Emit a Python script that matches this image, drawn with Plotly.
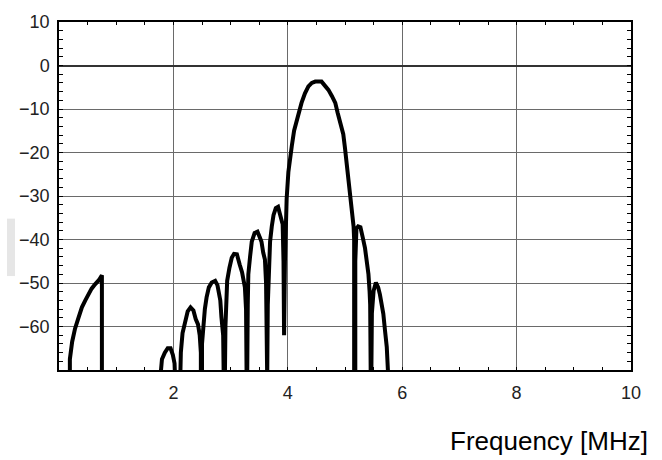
import plotly.graph_objects as go

# Spectrum trace (MHz, dB); None separates pieces that fall below the axis floor
freq = [
    0.19, 0.19, 0.23, 0.28, 0.34, 0.40, 0.46, 0.51, 0.57, 0.63, 0.70, 0.75, 0.75, None,
    1.77, 1.80, 1.85, 1.90, 1.95, 1.99, 2.02, 2.03, 2.03, None,
    2.12, 2.13, 2.16, 2.20, 2.25, 2.30, 2.35, 2.39, 2.43, 2.46, 2.48, 2.48,
    2.50, 2.50, 2.52, 2.55, 2.58, 2.62, 2.67, 2.73, 2.77, 2.80, 2.82, 2.84, 2.87, 2.88,
    2.90, 2.91, 2.92, 2.94, 2.98, 3.02, 3.06, 3.11, 3.16, 3.20, 3.25, 3.27, 3.28,
    3.29, 3.30, 3.31, 3.34, 3.37, 3.42, 3.47, 3.51, 3.54, 3.57, 3.60, 3.62, 3.63,
    3.64, 3.65, 3.67, 3.69, 3.72, 3.75, 3.79, 3.83, 3.86, 3.88, 3.91, 3.925, 3.935,
    3.95, 3.97, 3.98,
    4.01, 4.04, 4.07, 4.11, 4.16, 4.20, 4.24, 4.30, 4.36, 4.42, 4.48, 4.59, 4.65,
    4.71, 4.77, 4.83, 4.87, 4.91, 4.97, 5.00, 5.03, 5.06, 5.09, 5.12, 5.15, 5.16, 5.16,
    5.18, 5.18, 5.20, 5.23, 5.27, 5.31, 5.35, 5.38, 5.41, 5.43, 5.44, 5.45,
    5.46, 5.47, 5.50, 5.54, 5.58, 5.61, 5.64, 5.67, 5.70, 5.73, 5.75, 5.76,
]
level = [
    -72, -67.5, -63.5, -60.5, -58, -55.6, -54, -52.6, -51.3, -50.3, -49.3, -48.2, -72, None,
    -72, -67.5, -66, -65, -65, -66.5, -68.5, -70, -72, None,
    -72, -66, -61.5, -59, -56.5, -55.6, -56.3, -58.3, -59.5, -62, -66, -72,
    -72, -64, -59.4, -56, -53.3, -51, -49.9, -49.5, -50.5, -52.2, -54, -57.9, -62, -72,
    -72, -60, -54, -49.5, -46.5, -44.2, -43.3, -43.4, -45.8, -47.5, -51, -56, -72,
    -72, -55, -48, -44, -40.5, -38.5, -38.2, -39.5, -40.5, -43, -44.6, -50, -72,
    -72, -55, -45, -40.5, -37, -34.4, -32.8, -32.5, -34, -35.2, -36.5, -45, -62,
    -45, -33, -30.6,
    -24.5, -21, -18.5, -15, -12.4, -10.3, -8.6, -6.4, -4.8, -4, -3.7, -3.7, -4.5,
    -5.6, -7, -8.6, -10.8, -13.2, -15.8, -19, -22.3, -26.8, -29.8, -32.9, -37, -40, -72,
    -72, -45, -37.5, -37, -37.2, -39.5, -42, -45, -48, -52, -55, -72,
    -72, -57, -51.8, -49.9, -51, -52.6, -55, -57.1, -61, -64.7, -70, -72,
]

x_ticks = [2, 4, 6, 8, 10]
y_ticks = [10, 0, -10, -20, -30, -40, -50, -60]
x_title = "Frequency [MHz]"

fig = go.Figure()
fig.add_trace(go.Scatter(
    x=freq, y=level, mode="lines",
    line=dict(color="black", width=4),
    connectgaps=False, hoverinfo="skip", showlegend=False,
))

fig.update_layout(
    width=662, height=460,
    margin=dict(l=59, r=31, t=18, b=90),
    paper_bgcolor="white", plot_bgcolor="white",
    showlegend=False,
)
fig.update_xaxes(
    range=[0, 10], tickvals=x_ticks, ticktext=[str(v) for v in x_ticks],
    showgrid=True, gridcolor="#6a6a6a", gridwidth=1,
    zeroline=False, showline=True, linecolor="black", linewidth=1.5, mirror="allticks",
    ticks="inside", ticklen=0, tickcolor="black", ticklabelstandoff=6,
    minor=dict(dtick=0.5, tick0=0, ticks="inside", ticklen=3, tickcolor="black", showgrid=False),
    tickfont=dict(family="Liberation Sans", size=18, color="#222"),
)
fig.update_yaxes(
    range=[-70, 10], tickvals=y_ticks,
    showgrid=True, gridcolor="#6a6a6a", gridwidth=1,
    zeroline=True, zerolinecolor="#333", zerolinewidth=1.5,
    showline=True, linecolor="black", linewidth=1.5, mirror="allticks",
    ticks="inside", ticklen=0, tickcolor="black", ticklabelstandoff=4,
    minor=dict(dtick=2, tick0=0, ticks="inside", ticklen=4, tickcolor="black", showgrid=False),
    tickfont=dict(family="Liberation Sans", size=18, color="#222"),
)

fig.add_annotation(
    text=x_title, xref="paper", yref="paper", x=1.033, y=-0.204,
    xanchor="right", yanchor="middle", showarrow=False,
    font=dict(family="Liberation Sans", size=26, color="black"),
)
fig.add_shape(
    type="rect", xref="paper", yref="paper",
    x0=-0.0909, x1=-0.0769, y0=0.27, y1=0.435,
    fillcolor="#e6e6e6", line=dict(width=0), layer="below",
)

fig.write_html("out.html")
